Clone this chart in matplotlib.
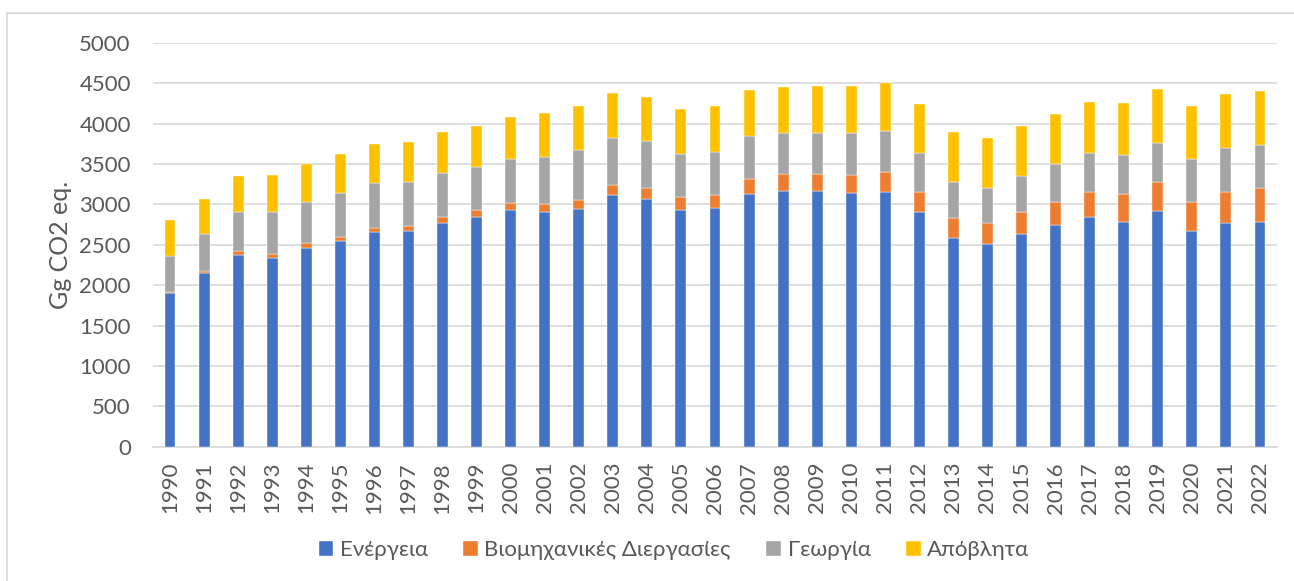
import matplotlib.pyplot as plt
import numpy as np
from matplotlib.patches import Rectangle

# Εκπομπές ανά τομέα (Gg CO2 eq.), εκτίμηση από το γράφημα
years = list(range(1990, 2023))
energy = [1898, 2153, 2372, 2339, 2463, 2549, 2652, 2665, 2772, 2842, 2925,
          2908, 2945, 3110, 3065, 2933, 2958, 3131, 3168, 3168, 3139, 3156,
          2910, 2582, 2504, 2636, 2739, 2838, 2784, 2912, 2665, 2764, 2784]
industry = [12, 17, 45, 45, 53, 41, 58, 62, 66, 83, 86,
            99, 112, 124, 140, 161, 161, 186, 202, 210, 227, 247,
            246, 252, 264, 272, 293, 318, 339, 359, 367, 392, 413]
agriculture = [454, 462, 491, 520, 516, 553, 553, 544, 545, 532, 545,
               582, 618, 590, 574, 524, 532, 532, 508, 500, 516, 508,
               482, 445, 437, 446, 462, 474, 482, 491, 528, 544, 536]
waste = [437, 437, 446, 458, 470, 483, 487, 495, 507, 515, 524,
         540, 541, 553, 548, 561, 561, 561, 573, 581, 585, 589,
         603, 615, 619, 618, 623, 639, 648, 660, 656, 664, 664]

labels = ['Ενέργεια', 'Βιομηχανικές Διεργασίες', 'Γεωργία', 'Απόβλητα']
colors = ['#4472C4', '#ED7D31', '#A5A5A5', '#FFC000']

plt.rcParams['font.family'] = ['Lato', 'DejaVu Sans']
text_color = '#595959'

fig = plt.figure(figsize=(12.94, 5.81), dpi=100)
ax = fig.add_axes([153 / 1294, 1 - 446.7 / 581, (1277 - 153) / 1294, (446.7 - 42.7) / 581])

x = np.arange(len(years))
bottom = np.zeros(len(years))
for vals, lab, col in zip([energy, industry, agriculture, waste], labels, colors):
    ax.bar(x, vals, width=0.32, bottom=bottom, color=col, label=lab,
           edgecolor='white', linewidth=0.3, zorder=3)
    bottom += np.array(vals)

ax.set_xlim(-0.5, len(years) - 0.5)
ax.set_ylim(0, 5000)
ax.set_yticks(np.arange(0, 5001, 500))
ax.set_xticks(x)
ax.set_xticklabels([str(y) for y in years], rotation=90)
ax.tick_params(axis='both', length=0, labelsize=16, colors=text_color)
ax.tick_params(axis='y', pad=16)
ax.tick_params(axis='x', pad=11)
ax.grid(axis='y', color='#d9d9d9', linewidth=1.2, zorder=0)
for s in ['top', 'right', 'left']:
    ax.spines[s].set_visible(False)
ax.spines['bottom'].set_color('#d9d9d9')
ax.spines['bottom'].set_linewidth(1.2)

fig.text(60 / 1294, 1 - 245 / 581, 'Gg CO2 eq.', rotation=90, ha='center', va='center',
         fontsize=18, color=text_color)

fig.legend(loc='center', bbox_to_anchor=(674 / 1294, 1 - 550 / 581), ncol=4, frameon=False,
           fontsize=16, labelcolor=text_color, handlelength=0.65, handleheight=0.65,
           handletextpad=0.3, columnspacing=1.6)

fig.patches.append(Rectangle((7 / 1294, -0.1), 1.2, 1 - 13 / 581 + 0.1, transform=fig.transFigure,
                             fill=False, edgecolor='#d9d9d9', linewidth=1.2))

plt.savefig('out.png', dpi=100)
